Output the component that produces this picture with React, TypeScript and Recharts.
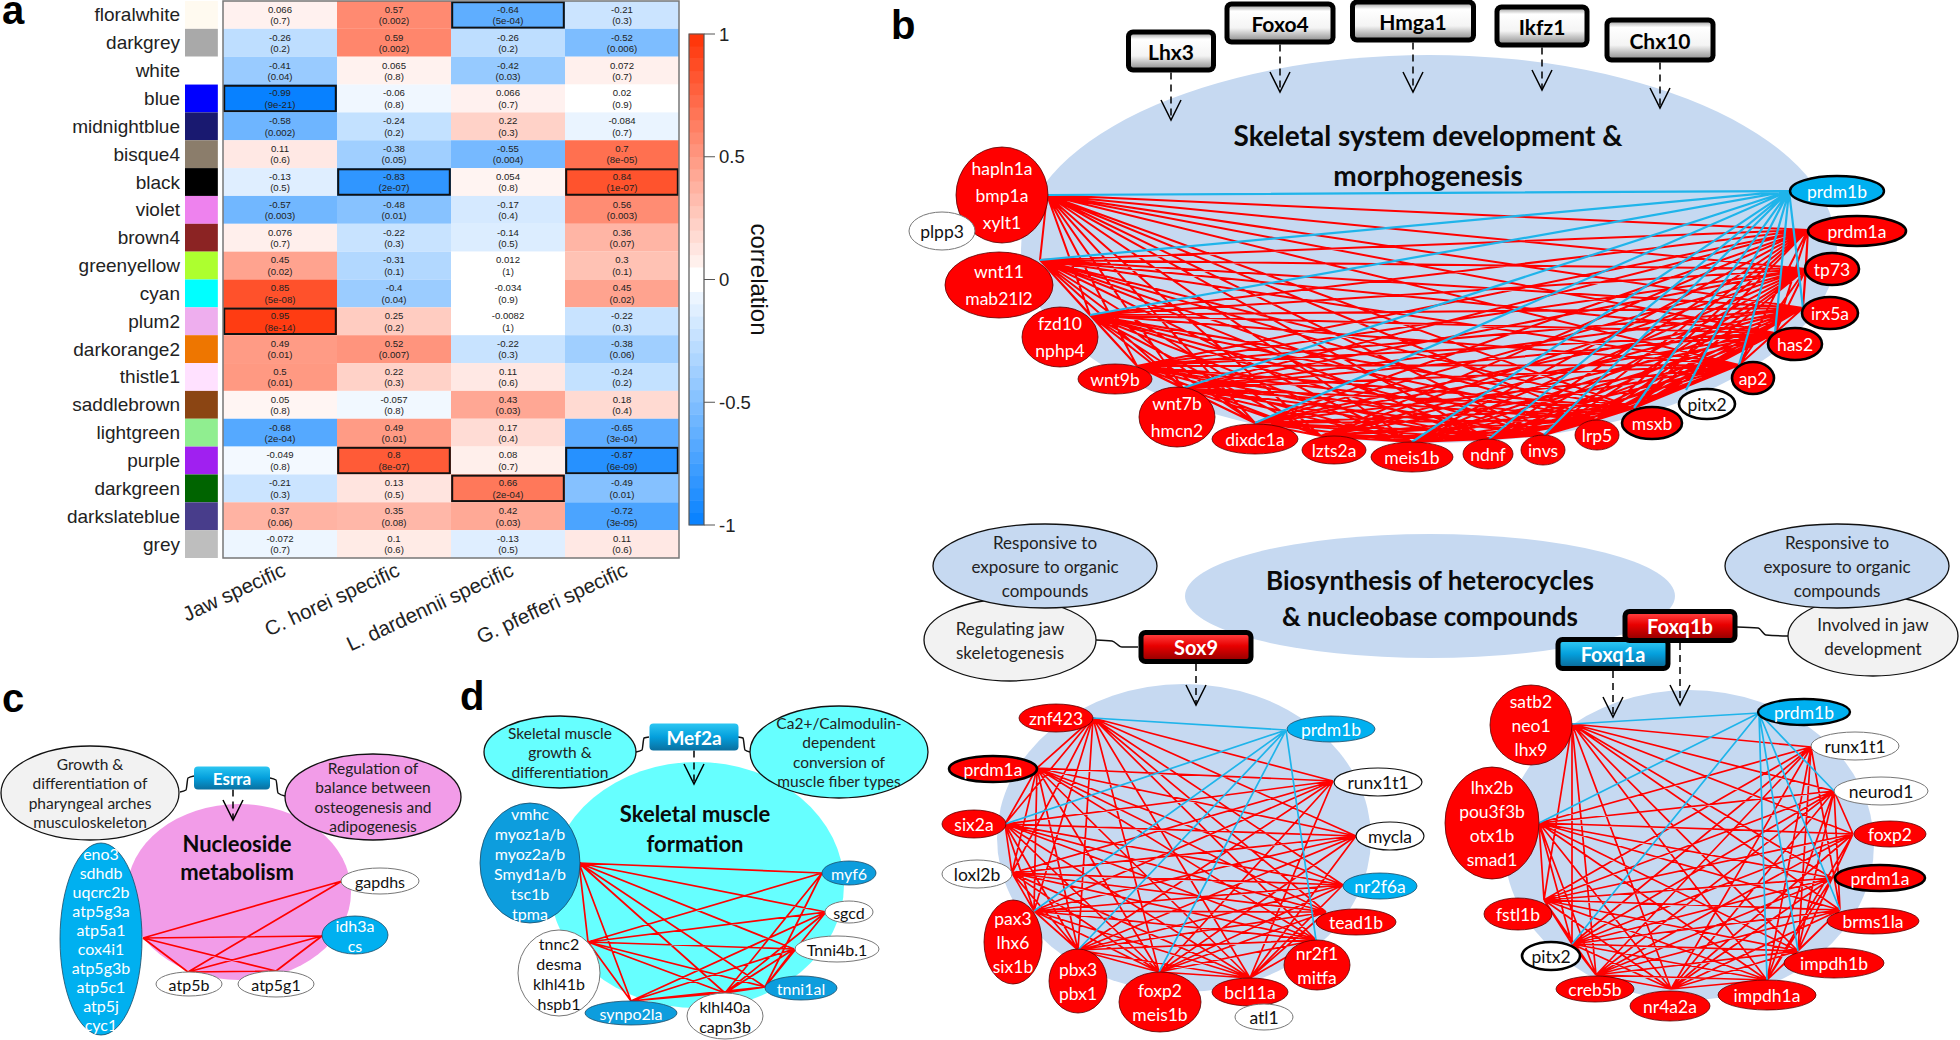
import React from 'react';
import { ComposedChart, Line, Scatter, XAxis, YAxis, ReferenceArea } from 'recharts';

// ---- panel a: module / trait correlations ----
const moduleNames = ['floralwhite', 'darkgrey', 'white', 'blue', 'midnightblue', 'bisque4', 'black', 'violet', 'brown4', 'greenyellow', 'cyan', 'plum2', 'darkorange2', 'thistle1', 'saddlebrown', 'lightgreen', 'purple', 'darkgreen', 'darkslateblue', 'grey'];
const moduleColors = ['#FFFAF0', '#A9A9A9', '#FFFFFF', '#0000FF', '#191970', '#8B7D6B', '#000000', '#EE82EE', '#8B2323', '#ADFF2F', '#00FFFF', '#EEAEEE', '#EE7600', '#FFE1FF', '#8B4513', '#90EE90', '#A020F0', '#006400', '#483D8B', '#BEBEBE'];
const traitNames = ['Jaw specific', 'C. horei specific', 'L. dardennii specific', 'G. pfefferi specific'];

const jawR = [0.066, -0.26, -0.41, -0.99, -0.58, 0.11, -0.13, -0.57, 0.076, 0.45, 0.85, 0.95, 0.49, 0.5, 0.05, -0.68, -0.049, -0.21, 0.37, -0.072];
const jawP = ['0.7', '0.2', '0.04', '9e-21', '0.002', '0.6', '0.5', '0.003', '0.7', '0.02', '5e-08', '8e-14', '0.01', '0.01', '0.8', '2e-04', '0.8', '0.3', '0.06', '0.7'];
const horeiR = [0.57, 0.59, 0.065, -0.06, -0.24, -0.38, -0.83, -0.48, -0.22, -0.31, -0.4, 0.25, 0.52, 0.22, -0.057, 0.49, 0.8, 0.13, 0.35, 0.1];
const horeiP = ['0.002', '0.002', '0.8', '0.8', '0.2', '0.05', '2e-07', '0.01', '0.3', '0.1', '0.04', '0.2', '0.007', '0.3', '0.8', '0.01', '8e-07', '0.5', '0.08', '0.6'];
const dardR = [-0.64, -0.26, -0.42, 0.066, 0.22, -0.55, 0.054, -0.17, -0.14, 0.012, -0.034, -0.0082, -0.22, 0.11, 0.43, 0.17, 0.08, 0.66, 0.42, -0.13];
const dardP = ['5e-04', '0.2', '0.03', '0.7', '0.3', '0.004', '0.8', '0.4', '0.5', '1', '0.9', '1', '0.3', '0.6', '0.03', '0.4', '0.7', '2e-04', '0.03', '0.5'];
const pfefR = [-0.21, -0.52, 0.072, 0.02, -0.084, 0.7, 0.84, 0.56, 0.36, 0.3, 0.45, -0.22, -0.38, -0.24, 0.18, -0.65, -0.87, -0.49, -0.72, 0.11];
const pfefP = ['0.3', '0.006', '0.7', '0.9', '0.7', '8e-05', '1e-07', '0.003', '0.07', '0.1', '0.02', '0.3', '0.06', '0.2', '0.4', '3e-04', '6e-09', '0.01', '3e-05', '0.6'];
const boxedCells = ['0-2', '3-0', '6-1', '6-3', '11-0', '16-1', '16-3', '17-2'];
const colorbarTicks = [-1, -0.5, 0, 0.5, 1];
const colorbarSteps = 40;

const corrColor = (r: number) => {
  const a = Math.abs(r);
  if (a < 0.04) return '#FFFFFF';
  const g = r > 0 ? 255 - a * 205 : 255 - a * 127;
  return r > 0
    ? `rgb(255,${Math.round(g)},${Math.round(255 - a * 250)})`
    : `rgb(${Math.round(255 - a * 250)},${Math.round(g)},255)`;
};

const traitR = [jawR, horeiR, dardR, pfefR];
const traitP = [jawP, horeiP, dardP, pfefP];
const cellRows = moduleNames.flatMap((_, row) =>
  traitNames.map((_t, col) => ({
    x: col + 0.5,
    y: row + 0.5,
    r: traitR[col][row],
    p: traitP[col][row],
    boxed: boxedCells.includes(`${row}-${col}`),
  }))
);
const swatchRows = moduleNames.map((_, row) => ({ x: -0.19, y: row + 0.5, color: moduleColors[row] }));
// colour key: one row per step of the legend ramp
const colorbarRows = Array.from({ length: colorbarSteps }, (_, i) => ({ x: 0.5, y: -1 + (i + 0.5) * (2 / colorbarSteps) }));

// ---- networks: label, cx, cy, rx, ry, look, edge anchor x, edge anchor y ----
type NodeRow = [string, number, number, number, number, string, number, number];

const skeletalNodes: NodeRow[] = [
  ['hapln1a|bmp1a|xylt1', 1002, 195, 46, 48, 'r', 1047, 195],
  ['plpp3', 942, 231, 33, 19, 'w', 942, 231],
  ['wnt11|mab21l2', 999, 285, 54, 33, 'r', 1040, 260],
  ['fzd10|nphp4', 1060, 337, 38, 30, 'r', 1090, 315],
  ['wnt9b', 1115, 379, 37, 15, 'r', 1137, 366],
  ['wnt7b|hmcn2', 1177, 417, 38, 30, 'r', 1183, 388],
  ['dixdc1a', 1255, 439, 43, 15, 'r', 1255, 423],
  ['lzts2a', 1334, 450, 32, 14, 'r', 1321, 436],
  ['meis1b', 1412, 457, 41, 15, 'r', 1412, 442],
  ['ndnf', 1488, 454, 25, 15, 'r', 1489, 439],
  ['invs', 1543, 450, 22, 15, 'r', 1544, 435],
  ['lrp5', 1597, 435, 22, 15, 'r', 1596, 420],
  ['msxb', 1652, 423, 30, 16, 'R', 1634, 408],
  ['pitx2', 1707, 404, 28, 15, 'K', 1686, 390],
  ['ap2', 1753, 378, 21, 16, 'R', 1739, 365],
  ['has2', 1795, 344, 27, 16, 'R', 1775, 333],
  ['irx5a', 1830, 313, 28, 16, 'R', 1803, 308],
  ['tp73', 1832, 269, 27, 16, 'R', 1806, 269],
  ['prdm1a', 1857, 231, 49, 15, 'R', 1808, 230],
  ['prdm1b', 1837, 191, 47, 15, 'B', 1789, 191],
];
const skeletalRed = ['hapln1a', 'wnt11', 'fzd10', 'wnt9b', 'wnt7b', 'dixdc1a', 'lzts2a', 'meis1b', 'ndnf', 'invs', 'lrp5', 'msxb', 'ap2', 'has2', 'irx5a', 'tp73', 'prdm1a'];
const skeletalBlue = ['hapln1a', 'wnt11', 'fzd10', 'wnt7b', 'dixdc1a', 'meis1b', 'ndnf', 'invs', 'msxb', 'pitx2', 'ap2', 'has2', 'irx5a'];

const sox9Nodes: NodeRow[] = [
  ['znf423', 1056, 718, 37, 14, 'r', 1093, 718],
  ['prdm1a', 993, 769, 44, 13, 'R', 1037, 768],
  ['six2a', 974, 824, 32, 14, 'r', 1005, 824],
  ['loxl2b', 977, 874, 35, 14, 'w', 1012, 873],
  ['pax3|lhx6|six1b', 1013, 942, 29, 42, 'r', 1034, 911],
  ['pbx3|pbx1', 1078, 981, 29, 32, 'r', 1078, 950],
  ['foxp2|meis1b', 1160, 1002, 41, 30, 'r', 1159, 972],
  ['bcl11a', 1250, 992, 38, 14, 'r', 1250, 978],
  ['atl1', 1264, 1017, 29, 13, 'w', 1264, 1017],
  ['nr2f1|mitfa', 1317, 965, 33, 25, 'r', 1316, 940],
  ['tead1b', 1356, 922, 40, 13, 'r', 1326, 912],
  ['nr2f6a', 1380, 886, 37, 13, 'b', 1343, 885],
  ['mycla', 1390, 836, 34, 14, 'W', 1356, 836],
  ['runx1t1', 1378, 782, 44, 14, 'W', 1333, 781],
  ['prdm1b', 1331, 729, 44, 13, 'b', 1286, 730],
];
const sox9Left = ['znf423', 'prdm1a', 'six2a', 'loxl2b', 'pax3', 'pbx3', 'foxp2', 'bcl11a'];
const sox9Right = ['runx1t1', 'mycla', 'nr2f6a', 'tead1b', 'nr2f1'];
const sox9Blue = ['znf423', 'six2a', 'pax3', 'pbx3', 'foxp2', 'nr2f1'];

const foxqNodes: NodeRow[] = [
  ['satb2|neo1|lhx9', 1531, 725, 41, 40, 'r', 1572, 724],
  ['lhx2b|pou3f3b|otx1b|smad1', 1492, 823, 47, 56, 'r', 1539, 823],
  ['fstl1b', 1518, 914, 34, 16, 'r', 1544, 900],
  ['pitx2', 1551, 956, 29, 14, 'K', 1572, 944],
  ['creb5b', 1595, 989, 39, 13, 'r', 1596, 975],
  ['nr4a2a', 1670, 1006, 40, 15, 'r', 1671, 989],
  ['impdh1a', 1767, 995, 49, 15, 'r', 1767, 980],
  ['impdh1b', 1834, 963, 50, 15, 'r', 1798, 951],
  ['brms1la', 1873, 921, 46, 13, 'r', 1840, 910],
  ['prdm1a', 1880, 878, 45, 13, 'R', 1832, 878],
  ['foxp2', 1890, 834, 36, 13, 'r', 1853, 834],
  ['neurod1', 1881, 791, 47, 14, 'w', 1834, 791],
  ['runx1t1', 1855, 746, 44, 14, 'w', 1811, 747],
  ['prdm1b', 1804, 712, 46, 13, 'B', 1759, 713],
];
const foxqRed = ['satb2', 'lhx2b', 'fstl1b', 'pitx2', 'creb5b', 'nr4a2a', 'impdh1a', 'impdh1b', 'brms1la', 'prdm1a', 'foxp2', 'neurod1', 'runx1t1'];
const foxqMissing = ['satb2-lhx2b', 'neurod1-runx1t1', 'foxp2-runx1t1', 'prdm1a-runx1t1', 'brms1la-prdm1a', 'brms1la-foxp2', 'prdm1a-neurod1'];
const foxqBlue = ['satb2', 'lhx2b', 'pitx2', 'impdh1a', 'impdh1b', 'brms1la', 'neurod1'];

const nucleosideNodes: NodeRow[] = [
  ['eno3|sdhdb|uqcrc2b|atp5g3a|atp5a1|cox4i1|atp5g3b|atp5c1|atp5j|cyc1', 101, 939, 41, 96, 'b', 143, 938],
  ['gapdhs', 380, 881, 39, 13, 'w', 342, 881],
  ['idh3a|cs', 355, 935, 33, 19, 'b', 322, 936],
  ['atp5b', 189, 984, 33, 12, 'w', 188, 972],
  ['atp5g1', 276, 984, 38, 13, 'w', 276, 971],
];
const nucleosideEdges = [['eno3', 'gapdhs'], ['eno3', 'idh3a'], ['eno3', 'atp5b'], ['eno3', 'atp5g1'], ['gapdhs', 'atp5b'], ['idh3a', 'atp5b'], ['idh3a', 'atp5g1'], ['atp5b', 'atp5g1']];

const muscleNodes: NodeRow[] = [
  ['vmhc|myoz1a/b|myoz2a/b|Smyd1a/b|tsc1b|tpma', 530, 863, 50, 60, 'd', 579, 863],
  ['tnnc2|desma|klhl41b|hspb1', 559, 973, 41, 43, 'w', 588, 942],
  ['synpo2la', 631, 1013, 46, 12, 'd', 631, 1001],
  ['klhl40a|capn3b', 725, 1016, 38, 23, 'w', 725, 993],
  ['tnni1al', 801, 988, 36, 12, 'd', 765, 987],
  ['Tnni4b.1', 837, 949, 42, 13, 'w', 794, 949],
  ['sgcd', 849, 912, 24, 11, 'w', 826, 912],
  ['myf6', 849, 873, 27, 12, 'd', 822, 873],
];
const muscleEdges = [
  ['vmhc', 'myf6'], ['vmhc', 'sgcd'], ['vmhc', 'Tnni4b.1'], ['vmhc', 'tnni1al'], ['vmhc', 'klhl40a'], ['vmhc', 'synpo2la'], ['vmhc', 'tnnc2'],
  ['tnnc2', 'myf6'], ['tnnc2', 'sgcd'], ['tnnc2', 'Tnni4b.1'], ['tnnc2', 'tnni1al'], ['tnnc2', 'klhl40a'], ['tnnc2', 'synpo2la'],
  ['synpo2la', 'klhl40a'], ['synpo2la', 'tnni1al'], ['synpo2la', 'Tnni4b.1'], ['synpo2la', 'sgcd'],
  ['klhl40a', 'tnni1al'], ['klhl40a', 'Tnni4b.1'], ['klhl40a', 'sgcd'], ['klhl40a', 'myf6'],
  ['tnni1al', 'Tnni4b.1'], ['tnni1al', 'sgcd'], ['tnni1al', 'myf6'],
];

// ---- backdrops, bubbles, regulators: text, cx, cy, rx, ry, fill ----
type BlobRow = [string, number, number, number, number, string];
const backdrops: BlobRow[] = [
  ['', 1429, 249, 408, 194, '#C6D9F1'],
  ['', 1430, 596, 245, 62, '#C6D9F1'],
  ['', 1184, 838, 187, 154, '#C6D9F1'],
  ['', 1689, 845, 185, 155, '#C6D9F1'],
  ['', 239, 892, 112, 88, '#F29CE8'],
  ['', 697, 885, 147, 123, '#66FFFF'],
];
const bubbles: BlobRow[] = [
  ['Regulating jaw|skeletogenesis', 1010, 640, 86, 41, '#F2F2F2'],
  ['Responsive to|exposure to organic|compounds', 1045, 566, 112, 42, '#C6D9F1'],
  ['Involved in jaw|development', 1873, 636, 85, 40, '#F2F2F2'],
  ['Responsive to|exposure to organic|compounds', 1837, 566, 112, 42, '#C6D9F1'],
  ['Growth &|differentiation of|pharyngeal arches|musculoskeleton', 90, 793, 89, 47, '#F2F2F2'],
  ['Regulation of|balance between|osteogenesis and|adipogenesis', 373, 797, 88, 43, '#F29CE8'],
  ['Skeletal muscle|growth &|differentiation', 560, 752, 76, 36, '#66FFFF'],
  ['Ca2+/Calmodulin-|dependent|conversion of|muscle fiber types', 839, 752, 89, 46, '#66FFFF'],
];
// text, x, y, font size, line height
const titles: [string, number, number, number, number][] = [
  ['Skeletal system development &|morphogenesis', 1428, 155, 28, 40],
  ['Biosynthesis of heterocycles|& nucleobase compounds', 1430, 598, 26, 36],
  ['Nucleoside|metabolism', 237, 857, 22, 28],
  ['Skeletal muscle|formation', 695, 828, 22, 30],
];
const panelLetters: [string, number, number][] = [['a', 2, 24], ['b', 891, 39], ['c', 2, 712], ['d', 460, 710]];
// name, cx, cy, width, height, look, arrow x, arrow tip y, font size
const regulators: [string, number, number, number, number, string, number, number, number][] = [
  ['Lhx3', 1171, 51, 90, 43, 'silver', 1171, 120, 21],
  ['Foxo4', 1280, 23, 111, 43, 'silver', 1280, 92, 21],
  ['Hmga1', 1413, 21, 126, 43, 'silver', 1413, 92, 21],
  ['Ikfz1', 1542, 26, 95, 43, 'silver', 1542, 90, 21],
  ['Chx10', 1660, 40, 111, 45, 'silver', 1660, 108, 21],
  ['Sox9', 1196, 647, 115, 34, 'red', 1196, 705, 20],
  ['Foxq1a', 1613, 654, 115, 34, 'blue', 1613, 717, 20],
  ['Foxq1b', 1680, 626, 115, 34, 'red', 1680, 705, 20],
  ['Esrra', 232, 778, 76, 23, 'flat', 233, 820, 17],
  ['Mef2a', 694, 737, 89, 27, 'flat', 694, 784, 19],
];
const wires: number[][][] = [
  [[1096, 640], [1112, 641], [1122, 647], [1138, 647]],
  [[1737, 627], [1758, 628], [1766, 635], [1788, 636]],
  [[180, 792], [186, 790], [188, 778], [194, 776]],
  [[270, 778], [276, 780], [278, 793], [285, 796]],
  [[636, 752], [642, 750], [644, 738], [649, 737]],
  [[738, 737], [743, 738], [745, 750], [750, 752]],
];

// ---- helpers ----
const geneKey = (label: string) => label.split('|')[0];
const anchor = (nodes: NodeRow[], name: string) => nodes.find((n) => geneKey(n[0]) === name)!;

const edgeRows = (nodes: NodeRow[], pairs: string[][]) =>
  pairs.flatMap(([a, b]) => {
    const p = anchor(nodes, a);
    const q = anchor(nodes, b);
    return [{ x: p[6], y: p[7] }, { x: q[6], y: q[7] }, { x: q[6], y: null }];
  });
const allPairs = (names: string[], missing: string[] = []) =>
  names.flatMap((a, i) => names.slice(i + 1).map((b) => [a, b])).filter(([a, b]) => !missing.includes(`${a}-${b}`) && !missing.includes(`${b}-${a}`));
const crossPairs = (left: string[], right: string[]) => left.flatMap((a) => right.map((b) => [a, b]));

const skeletalRedEdges = edgeRows(skeletalNodes, allPairs(skeletalRed));
const skeletalBlueEdges = edgeRows(skeletalNodes, crossPairs(['prdm1b'], skeletalBlue));
const redEdges = [
  ...edgeRows(sox9Nodes, [...allPairs(sox9Left), ...crossPairs(sox9Left, sox9Right)]),
  ...edgeRows(foxqNodes, allPairs(foxqRed, foxqMissing)),
  ...edgeRows(nucleosideNodes, nucleosideEdges),
  ...edgeRows(muscleNodes, muscleEdges),
];
const blueEdges = [
  ...edgeRows(sox9Nodes, crossPairs(['prdm1b'], sox9Blue)),
  ...edgeRows(foxqNodes, crossPairs(['prdm1b'], foxqBlue)),
];
const wireRows = wires.flatMap((w) => [...w.map(([x, y]) => ({ x, y })), { x: w[3][0], y: null as number | null }]);

const nodeRows = [...skeletalNodes, ...sox9Nodes, ...foxqNodes, ...nucleosideNodes, ...muscleNodes].map((n) => ({ label: n[0], x: n[1], y: n[2], rx: n[3], ry: n[4], look: n[5] }));
const backdropRows = backdrops.map((b) => ({ x: b[1], y: b[2], rx: b[3], ry: b[4], fill: b[5] }));
const bubbleRows = bubbles.map((b) => ({ label: b[0], x: b[1], y: b[2], rx: b[3], ry: b[4], fill: b[5] }));
const titleRows = titles.map((t) => ({ label: t[0], x: t[1], y: t[2], size: t[3], lh: t[4] }));
const letterRows = panelLetters.map((l) => ({ label: l[0], x: l[1], y: l[2] }));
const regulatorRows = regulators.map((r) => ({ name: r[0], x: r[1], y: r[2], w: r[3], h: r[4], look: r[5], ax: r[6], tip: r[7], size: r[8] }));

const NET_FONT = 'Lato, "Open Sans", sans-serif';
const PLOT_FONT = '"Liberation Sans", Arial, sans-serif';

const LOOKS: Record<string, { fill: string; stroke: string; sw: number; text: string }> = {
  r: { fill: '#FF0000', stroke: '#5a0000', sw: 0.8, text: '#FFFFFF' },
  R: { fill: '#FF0000', stroke: '#000000', sw: 2.6, text: '#FFFFFF' },
  w: { fill: '#FFFFFF', stroke: '#777777', sw: 1, text: '#111111' },
  W: { fill: '#FFFFFF', stroke: '#111111', sw: 1.2, text: '#111111' },
  K: { fill: '#FFFFFF', stroke: '#000000', sw: 2.6, text: '#111111' },
  b: { fill: '#00B0F0', stroke: '#1b4a66', sw: 0.8, text: '#FFFFFF' },
  B: { fill: '#00B0F0', stroke: '#000000', sw: 2.4, text: '#FFFFFF' },
  d: { fill: '#0D9DDD', stroke: '#1b4a66', sw: 0.8, text: '#FFFFFF' },
};

const MultiLine = ({ x, y, lines, size, lh, fill, weight }: any) => (
  <text x={x} textAnchor="middle" fontFamily={NET_FONT} fontSize={size} fontWeight={weight} fill={fill}>
    {lines.map((t: string, i: number) => (
      <tspan key={i} x={x} y={y + (i - (lines.length - 1) / 2) * lh} dominantBaseline="central">{t}</tspan>
    ))}
  </text>
);

const Backdrop = ({ cx, cy, payload }: any) => <ellipse cx={cx} cy={cy} rx={payload.rx} ry={payload.ry} fill={payload.fill} />;

const Bubble = ({ cx, cy, payload }: any) => {
  const lines = payload.label.split('|');
  const small = lines.length === 4 || payload.ry === 36;
  return (
    <g>
      <ellipse cx={cx} cy={cy} rx={payload.rx} ry={payload.ry} fill={payload.fill} stroke="#111" strokeWidth={1.3} />
      <MultiLine x={cx} y={cy} lines={lines} size={small ? 15.5 : 17} lh={small ? 19.5 : 24} fill="#222" />
    </g>
  );
};

const Title = ({ cx, cy, payload }: any) => (
  <MultiLine x={cx} y={cy} lines={payload.label.split('|')} size={payload.size} lh={payload.lh} fill="#0a0a0a" weight={700} />
);

const Letter = ({ cx, cy, payload }: any) => (
  <text x={cx} y={cy} fontFamily={PLOT_FONT} fontSize={40} fontWeight={700} fill="#000">{payload.label}</text>
);

const GeneNode = ({ cx, cy, payload }: any) => {
  const look = LOOKS[payload.look];
  const lines = payload.label.split('|');
  // panels c and d (left half, lower part) use tighter, smaller labels
  const lowerLeft = cx < 900 && cy > 470;
  const lh = lines.length === 10 ? 19.1 : lowerLeft ? 20 : cy < 470 ? 27 : 24;
  return (
    <g>
      <ellipse cx={cx} cy={cy} rx={payload.rx} ry={payload.ry} fill={look.fill} stroke={look.stroke} strokeWidth={look.sw} />
      <MultiLine x={cx} y={cy} lines={lines} size={lowerLeft ? 16 : 17.5} lh={lh} fill={look.text} />
    </g>
  );
};

const Regulator = ({ cx, cy, payload }: any) => {
  const { w, h, look, ax, tip, name, size } = payload;
  const flat = look === 'flat';
  const left = cx - w / 2;
  const top = cy - h / 2;
  const pad = flat ? 0 : 5;
  const fill = look === 'silver' ? 'url(#silverBox)' : look === 'red' ? 'url(#redBox)' : 'url(#blueBox)';
  return (
    <g>
      <line x1={ax} y1={top + h} x2={ax} y2={tip} stroke="#000" strokeWidth={1.5} strokeDasharray="7 5" />
      <path d={`M${ax - 10},${tip - 20} L${ax},${tip} L${ax + 10},${tip - 20}`} fill="none" stroke="#000" strokeWidth={1.5} />
      {!flat && <rect x={left} y={top} width={w} height={h} rx={7} fill="#000" />}
      <rect x={left + pad} y={top + pad} width={w - 2 * pad} height={h - 2 * pad} rx={flat ? 4 : 2} fill={fill} />
      <text x={cx} y={cy} textAnchor="middle" dominantBaseline="central" fontFamily={NET_FONT} fontWeight={700} fontSize={size} fill={look === 'silver' ? '#000' : '#fff'}>{name}</text>
    </g>
  );
};

// ---- heatmap marks ----
const CELL_W = 114;
const CELL_H = 27.85;

const HeatCell = ({ cx, cy, payload }: any) => (
  <g>
    <rect x={cx - CELL_W / 2} y={cy - CELL_H / 2} width={CELL_W} height={CELL_H} fill={corrColor(payload.r)} />
    {payload.boxed && (
      <rect x={cx - CELL_W / 2 + 1.2} y={cy - CELL_H / 2 + 1.2} width={CELL_W - 2.4} height={CELL_H - 2.4} fill="none" stroke="#111" strokeWidth={2} />
    )}
    <text x={cx} y={cy - 5.6} textAnchor="middle" dominantBaseline="central" fontFamily={PLOT_FONT} fontSize={9.6} fill="#222">{payload.r}</text>
    <text x={cx} y={cy + 5.8} textAnchor="middle" dominantBaseline="central" fontFamily={PLOT_FONT} fontSize={9.6} fill="#222">({payload.p})</text>
  </g>
);

const Swatch = ({ cx, cy, payload }: any) => (
  <rect x={cx - 16.5} y={cy - CELL_H / 2} width={33} height={CELL_H} fill={payload.color} />
);

const RampStep = ({ cx, cy, payload }: any) => (
  <rect x={cx - 7.5} y={cy - 6.4} width={15} height={12.8} fill={corrColor(payload.y)} />
);

const TraitTick = ({ x, payload }: any) => (
  <text x={0} y={0} textAnchor="end" transform={`translate(${x + 7},575) rotate(-25)`} fontFamily={PLOT_FONT} fontSize={20.5} fill="#222">
    {traitNames[payload.value - 0.5]}
  </text>
);

const ModuleTick = ({ y, payload }: any) => (
  <text x={180} y={y} textAnchor="end" dominantBaseline="central" fontFamily={PLOT_FONT} fontSize={19} fill="#222">
    {moduleNames[payload.value - 0.5]}
  </text>
);

const App = () => {
  return (
    <div style={{ position: 'absolute', left: 0, top: 0, width: 1960, height: 1040, background: '#fff', overflow: 'hidden' }}>
      <div style={{ position: 'absolute', left: 0, top: 0 }}>
        <ComposedChart width={680} height={680} margin={{ top: 1, right: 1, bottom: 0, left: 0 }}>
          <XAxis dataKey="x" type="number" domain={[-1 / 3, 4]} allowDataOverflow ticks={[0.5, 1.5, 2.5, 3.5]} interval={0} height={122} axisLine={false} tickLine={false} tick={TraitTick} />
          <YAxis dataKey="y" type="number" domain={[0, 20]} reversed allowDataOverflow ticks={moduleNames.map((_, i) => i + 0.5)} interval={0} width={185} axisLine={false} tickLine={false} tick={ModuleTick} />
          <Scatter data={swatchRows} shape={Swatch} isAnimationActive={false} />
          <Scatter data={cellRows} shape={HeatCell} isAnimationActive={false} />
          <ReferenceArea {...({ zIndex: 700 } as any)} x1={0} x2={4} y1={0} y2={20} fill="none" stroke="#777" strokeWidth={1.5} ifOverflow="visible" />
        </ComposedChart>
      </div>

      <div style={{ position: 'absolute', left: 680, top: 0 }}>
        <ComposedChart width={130} height={560} margin={{ top: 34, right: 0, bottom: 35, left: 9 }}>
          <XAxis dataKey="x" type="number" domain={[0, 1]} hide />
          <YAxis
            dataKey="y"
            type="number"
            orientation="right"
            domain={[-1, 1]}
            ticks={colorbarTicks}
            interval={0}
            width={106}
            axisLine={false}
            tickSize={11}
            tickMargin={4}
            tickLine={{ stroke: '#555' }}
            tick={{ fontFamily: PLOT_FONT, fontSize: 18.5, fill: '#222' }}
            label={{ value: 'correlation', angle: 90, position: 'center', dx: 3, style: { fontFamily: PLOT_FONT, fontSize: 24, fill: '#111' } }}
          />
          <Scatter data={colorbarRows} shape={RampStep} isAnimationActive={false} />
          <ReferenceArea {...({ zIndex: 700 } as any)} x1={0} x2={1} y1={-1} y2={1} fill="none" stroke="#555" strokeWidth={1.2} ifOverflow="visible" />
        </ComposedChart>
      </div>

      <div style={{ position: 'absolute', left: 0, top: 0 }}>
        <ComposedChart width={1960} height={1040} margin={{ top: 0, right: 0, bottom: 0, left: 0 }}>
          <defs>
            <linearGradient id="silverBox" x1="0" y1="0" x2="0" y2="1">
              <stop offset="0%" stopColor="#b5b5b5" />
              <stop offset="14%" stopColor="#ffffff" />
              <stop offset="65%" stopColor="#f4f4f4" />
              <stop offset="100%" stopColor="#9a9a9a" />
            </linearGradient>
            <linearGradient id="redBox" x1="0" y1="0" x2="0" y2="1">
              <stop offset="0%" stopColor="#ff3b3b" />
              <stop offset="45%" stopColor="#e80000" />
              <stop offset="100%" stopColor="#9c0000" />
            </linearGradient>
            <linearGradient id="blueBox" x1="0" y1="0" x2="0" y2="1">
              <stop offset="0%" stopColor="#2cc6f2" />
              <stop offset="50%" stopColor="#049fdc" />
              <stop offset="100%" stopColor="#0a6f9f" />
            </linearGradient>
          </defs>
          <XAxis dataKey="x" type="number" domain={[0, 1960]} allowDataOverflow hide />
          <YAxis dataKey="y" type="number" domain={[0, 1040]} reversed allowDataOverflow hide />
          <Scatter {...({ zIndex: 10 } as any)} data={backdropRows} shape={Backdrop} isAnimationActive={false} />
          <Scatter {...({ zIndex: 20 } as any)} data={titleRows} shape={Title} isAnimationActive={false} />
          <Scatter {...({ zIndex: 30 } as any)} data={letterRows} shape={Letter} isAnimationActive={false} />
          <Scatter {...({ zIndex: 40 } as any)} data={bubbleRows} shape={Bubble} isAnimationActive={false} />
          <Line {...({ zIndex: 50 } as any)} data={wireRows} dataKey="y" type="monotoneX" stroke="#111" strokeWidth={1.5} dot={false} activeDot={false} isAnimationActive={false} />
          <Line {...({ zIndex: 60 } as any)} data={skeletalRedEdges} dataKey="y" type="linear" stroke="#FF0000" strokeWidth={2} dot={false} activeDot={false} isAnimationActive={false} />
          <Line {...({ zIndex: 61 } as any)} data={redEdges} dataKey="y" type="linear" stroke="#FF0000" strokeWidth={1.7} dot={false} activeDot={false} isAnimationActive={false} />
          <Line {...({ zIndex: 70 } as any)} data={skeletalBlueEdges} dataKey="y" type="linear" stroke="#1FB4EA" strokeWidth={2.2} dot={false} activeDot={false} isAnimationActive={false} />
          <Line {...({ zIndex: 71 } as any)} data={blueEdges} dataKey="y" type="linear" stroke="#1FB4EA" strokeWidth={1.7} dot={false} activeDot={false} isAnimationActive={false} />
          <Scatter {...({ zIndex: 80 } as any)} data={nodeRows} shape={GeneNode} isAnimationActive={false} />
          <Scatter {...({ zIndex: 90 } as any)} data={regulatorRows} shape={Regulator} isAnimationActive={false} />
        </ComposedChart>
      </div>
    </div>
  );
};

export default App;
